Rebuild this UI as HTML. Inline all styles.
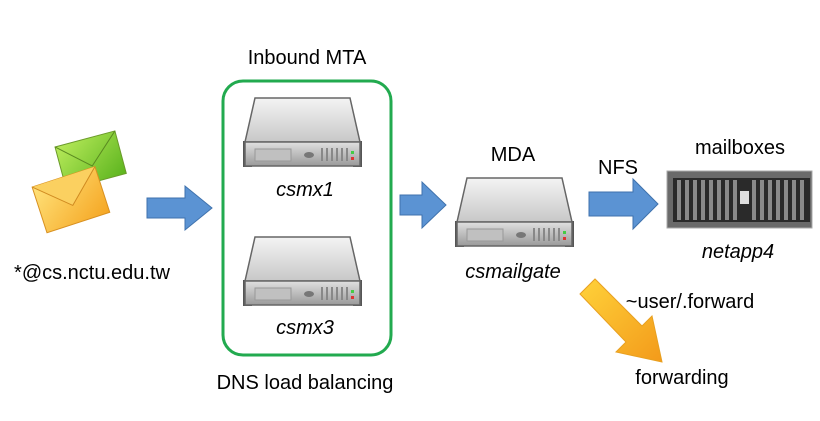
<!DOCTYPE html>
<html><head><meta charset="utf-8"><style>
body{margin:0;width:820px;height:416px;background:#fff;overflow:hidden}
svg text{font-family:"Liberation Sans",sans-serif;fill:#000}
</style></head><body>
<svg width="820" height="416" viewBox="0 0 820 416" xmlns="http://www.w3.org/2000/svg">
<defs>
<linearGradient id="top" x1="0" y1="0" x2="0" y2="1"><stop offset="0" stop-color="#f4f4f4"/><stop offset="1" stop-color="#c8c8c8"/></linearGradient>
<linearGradient id="front" x1="0" y1="0" x2="0" y2="1"><stop offset="0" stop-color="#e0e0e0"/><stop offset="1" stop-color="#9a9a9a"/></linearGradient>
<linearGradient id="yel" x1="0" y1="0" x2="1" y2="1"><stop offset="0" stop-color="#ffe27a"/><stop offset="1" stop-color="#f5a623"/></linearGradient>
<linearGradient id="grn" x1="0" y1="0" x2="1" y2="1"><stop offset="0" stop-color="#b8ea5a"/><stop offset="1" stop-color="#5cb41e"/></linearGradient>
<linearGradient id="org" x1="0" y1="0" x2="1" y2="1"><stop offset="0" stop-color="#ffd23a"/><stop offset="1" stop-color="#f39a1a"/></linearGradient>
<g id="srv">
<rect x="0" y="44" width="9" height="26" fill="#555"/>
<rect x="110" y="44" width="9" height="26" fill="#555"/>
<path d="M12 1 L107 1 L117 45 L2 45 Z" fill="url(#top)" stroke="#666" stroke-width="1.5"/>
<rect x="2" y="45" width="115" height="24" fill="url(#front)" stroke="#666" stroke-width="1.5"/>
<rect x="12" y="52" width="36" height="12" fill="#c0c0c0" stroke="#999"/>
<ellipse cx="66" cy="58" rx="5" ry="3" fill="#777"/>
<g fill="#888"><rect x="78" y="51" width="2" height="13"/><rect x="83" y="51" width="2" height="13"/><rect x="88" y="51" width="2" height="13"/><rect x="93" y="51" width="2" height="13"/><rect x="98" y="51" width="2" height="13"/><rect x="103" y="51" width="2" height="13"/></g>
<rect x="108" y="54" width="3" height="3" fill="#4c4"/><rect x="108" y="60" width="3" height="3" fill="#d33"/>
</g>
</defs>
<g transform="rotate(-15 85 170)"><rect x="62" y="140" width="62" height="44" fill="url(#grn)" stroke="#6a9a2a"/><path d="M62 140 L93 168 L124 140" fill="none" stroke="#5a8a20"/></g>
<g transform="rotate(-18 70 200)"><rect x="38" y="176" width="66" height="48" fill="url(#yel)" stroke="#d89020"/><path d="M38 176 L71 206 L104 176" fill="#fbd060" stroke="#d08a20"/></g>
<text x="92" y="279" font-size="20" text-anchor="middle">*@cs.nctu.edu.tw</text>
<path d="M147 198 L185 198 L185 186 L212 208 L185 230 L185 218 L147 218 Z" fill="#5b93d3" stroke="#3f72ad"/>
<path d="M400 195 L422 195 L422 182 L446 205 L422 228 L422 215 L400 215 Z" fill="#5b93d3" stroke="#3f72ad"/>
<path d="M589 192 L633 192 L633 179 L658 204 L633 229 L633 216 L589 216 Z" fill="#5b93d3" stroke="#3f72ad"/>
<path d="M580 294 L595 279 L642 326 L652 316 L662 362 L616 352 L626 342 Z" fill="url(#org)" stroke="#e8a020"/>
<rect x="223" y="81" width="168" height="274" rx="20" fill="none" stroke="#22aa4f" stroke-width="3"/>
<text x="307" y="64" font-size="20" text-anchor="middle">Inbound MTA</text>
<use href="#srv" x="243" y="97"/>
<text x="305" y="196" font-size="20" font-style="italic" text-anchor="middle">csmx1</text>
<use href="#srv" x="243" y="236"/>
<text x="305" y="334" font-size="20" font-style="italic" text-anchor="middle">csmx3</text>
<text x="305" y="389" font-size="20" text-anchor="middle">DNS load balancing</text>
<text x="513" y="161" font-size="20" text-anchor="middle">MDA</text>
<use href="#srv" x="455" y="177"/>
<text x="513" y="278" font-size="20" font-style="italic" text-anchor="middle">csmailgate</text>
<text x="618" y="174" font-size="20" text-anchor="middle">NFS</text>
<text x="740" y="154" font-size="20" text-anchor="middle">mailboxes</text>
<rect x="667" y="171" width="145" height="57" fill="#6a6a6a" stroke="#aaa"/>
<rect x="673" y="178" width="137" height="44" fill="#2a2a2a"/>
<g fill="#8a8a8a">
<rect x="677" y="180" width="4" height="40"/><rect x="685" y="180" width="4" height="40"/><rect x="693" y="180" width="4" height="40"/><rect x="701" y="180" width="4" height="40"/><rect x="709" y="180" width="4" height="40"/><rect x="717" y="180" width="4" height="40"/><rect x="725" y="180" width="4" height="40"/><rect x="733" y="180" width="4" height="40"/><rect x="752" y="180" width="4" height="40"/><rect x="760" y="180" width="4" height="40"/><rect x="768" y="180" width="4" height="40"/><rect x="776" y="180" width="4" height="40"/><rect x="784" y="180" width="4" height="40"/><rect x="792" y="180" width="4" height="40"/><rect x="800" y="180" width="4" height="40"/>
</g>
<rect x="740" y="191" width="9" height="13" fill="#ddd"/>
<text x="738" y="258" font-size="20" font-style="italic" text-anchor="middle">netapp4</text>
<text x="690" y="308" font-size="20" text-anchor="middle">~user/.forward</text>
<text x="682" y="384" font-size="20" text-anchor="middle">forwarding</text>
</svg>
</body></html>
